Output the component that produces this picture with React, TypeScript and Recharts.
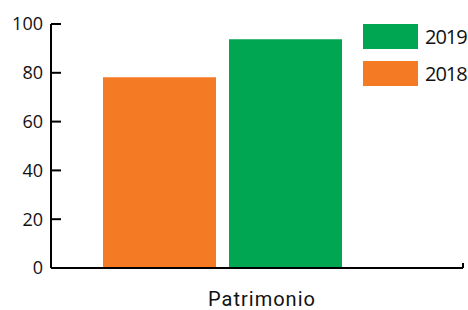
import React from 'react';
import { BarChart, Bar, XAxis, YAxis, Legend, ReferenceLine } from 'recharts';

const categories = ['Patrimonio'];
const values2018 = [78.2];
const values2019 = [93.7];
const yTicks = [0, 20, 40, 60, 80, 100];

const ORANGE = '#F47A24';
const GREEN = '#00A651';

const data = categories.map((c, i) => ({ name: c, y2018: values2018[i], y2019: values2019[i], pos: 0 }));

const legendItems = [
  { label: '2019', color: GREEN },
  { label: '2018', color: ORANGE },
];

const LegendContent = () => (
  <div style={{ display: 'flex', flexDirection: 'column', gap: 12 }}>
    {legendItems.map((it) => (
      <div key={it.label} style={{ display: 'flex', alignItems: 'center', height: 25 }}>
        <div style={{ width: 55, height: 25, background: it.color }} />
        <span
          style={{
            marginLeft: 7,
            fontFamily: 'Open Sans',
            fontSize: 20,
            letterSpacing: -1,
            color: '#111',
            lineHeight: '25px',
          }}
        >
          {it.label}
        </span>
      </div>
    ))}
  </div>
);

export default function App() {
  return (
    <div style={{ position: 'absolute', left: 0, top: 0 }}>
      <BarChart
        width={468}
        height={310}
        data={data}
        margin={{ top: 24, right: 5, bottom: 0, left: 0 }}
        barCategoryGap={52}
        barGap={13}
      >
        <XAxis
          dataKey="name"
          height={42}
          padding={{ left: 0, right: 69 }}
          tick={false}
          tickLine={false}
          axisLine={{ stroke: '#000', strokeWidth: 2 }}
          label={{
            value: 'Patrimonio',
            position: 'insideBottom',
            offset: 4,
            dx: 5,
            fill: '#111',
            style: { fontFamily: 'Roboto', fontSize: 20, letterSpacing: 1 },
          }}
        />
        <XAxis
          xAxisId="end"
          dataKey="pos"
          type="number"
          scale="linear"
          domain={[0, 1]}
          hide
          allowDataOverflow
        />
        <YAxis
          width={51}
          domain={[0, 100]}
          ticks={yTicks}
          interval={0}
          tickSize={-10}
          tickMargin={18}
          axisLine={{ stroke: '#000', strokeWidth: 2 }}
          tickLine={{ stroke: '#000', strokeWidth: 2 }}
          tick={{ fill: '#111', fontFamily: 'Open Sans', fontSize: 18 }}
        />
        <Legend
          layout="horizontal"
          verticalAlign="middle"
          align="center"
          content={<LegendContent />}
          wrapperStyle={{ top: 24, left: 363, width: 105 }}
        />
        <Bar dataKey="y2018" name="2018" fill={ORANGE} isAnimationActive={false} />
        <Bar dataKey="y2019" name="2019" fill={GREEN} isAnimationActive={false} />
        <ReferenceLine
          xAxisId="end"
          segment={[{ x: 1, y: 0 }, { x: 1, y: 2 }]}
          stroke="#000"
          strokeWidth={2}
          ifOverflow="visible"
        />
      </BarChart>
    </div>
  );
}
